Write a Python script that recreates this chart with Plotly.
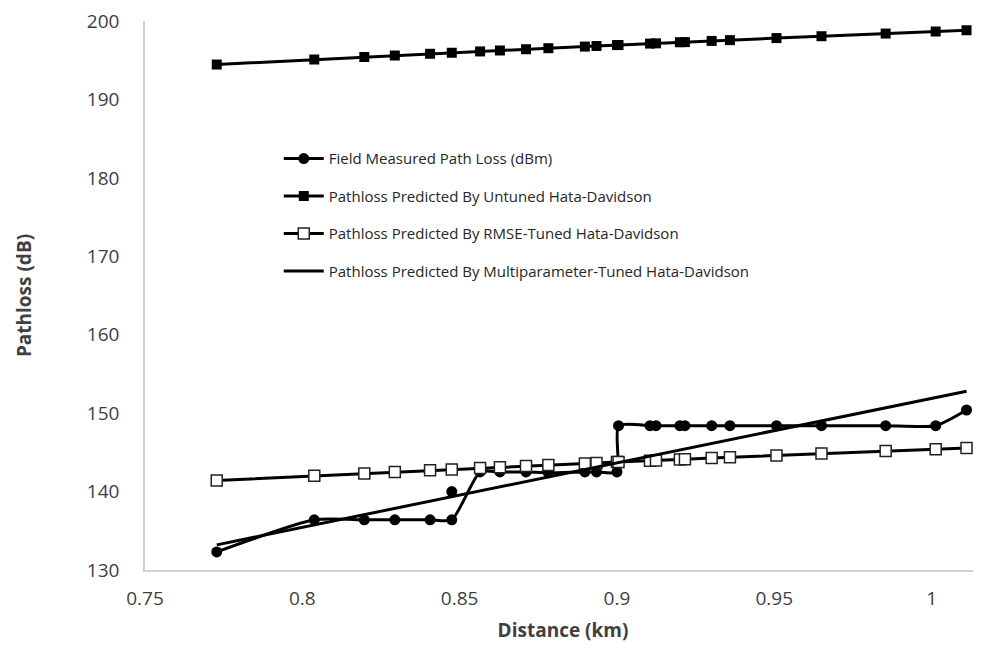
import plotly.graph_objects as go

# Distances (km) shared by the series with markers
distance_km = [0.7728, 0.8038, 0.8197, 0.8294, 0.8406, 0.8475, 0.8565, 0.8628,
               0.8711, 0.8782, 0.8898, 0.8935, 0.9000, 0.9005, 0.9105, 0.9124,
               0.9200, 0.9216, 0.9301, 0.9359, 0.9507, 0.9650, 0.9854, 1.0013,
               1.0111]

measured_db = [132.3, 136.4, 136.4, 136.4, 136.4, 136.4, 142.5, 142.5,
               142.5, 142.4, 142.5, 142.5, 142.5, 148.4, 148.4, 148.4,
               148.4, 148.4, 148.4, 148.4, 148.4, 148.4, 148.4, 148.4,
               150.4]

# isolated measured marker lying on the multiparameter line
measured_extra_km = [0.8475]
measured_extra_db = [140.0]

untuned_db = [194.45, 195.09, 195.41, 195.60, 195.82, 195.95, 196.12, 196.24,
              196.40, 196.53, 196.74, 196.81, 196.93, 196.94, 197.12, 197.15,
              197.29, 197.31, 197.46, 197.56, 197.82, 198.06, 198.40, 198.66,
              198.82]

rmse_db = [141.41, 142.01, 142.32, 142.50, 142.71, 142.83, 142.99, 143.11,
           143.26, 143.38, 143.58, 143.65, 143.76, 143.77, 143.94, 143.97,
           144.10, 144.13, 144.27, 144.37, 144.61, 144.84, 145.16, 145.41,
           145.56]

multi_km = [0.7728, 1.0111]
multi_db = [133.2, 152.8]

x_tick_vals = [0.75, 0.8, 0.85, 0.9, 0.95, 1.0]
x_tick_text = ["0.75", "0.8", "0.85", "0.9", "0.95", "1"]
y_tick_vals = [130, 140, 150, 160, 170, 180, 190, 200]

names = ["Field Measured Path Loss (dBm)",
         "Pathloss Predicted By Untuned Hata-Davidson",
         "Pathloss Predicted By RMSE-Tuned Hata-Davidson",
         "Pathloss Predicted By Multiparameter-Tuned Hata-Davidson"]

FONT = "Open Sans"
LINE_W = 3

fig = go.Figure()
fig.add_trace(go.Scatter(
    x=distance_km, y=measured_db, name=names[0], mode="lines+markers",
    line=dict(color="black", width=LINE_W, shape="spline", smoothing=0.6),
    marker=dict(symbol="circle", size=11, color="black"), legendgroup="a"))
fig.add_trace(go.Scatter(
    x=distance_km, y=untuned_db, name=names[1], mode="lines+markers",
    line=dict(color="black", width=LINE_W),
    marker=dict(symbol="square", size=10, color="black"), legendgroup="b"))
fig.add_trace(go.Scatter(
    x=distance_km, y=rmse_db, name=names[2], mode="lines+markers",
    line=dict(color="black", width=LINE_W),
    marker=dict(symbol="square", size=11, color="white",
                line=dict(color="#222222", width=1.5)), legendgroup="c"))
fig.add_trace(go.Scatter(
    x=multi_km, y=multi_db, name=names[3], mode="lines",
    line=dict(color="black", width=LINE_W), legendgroup="d"))
fig.add_trace(go.Scatter(
    x=measured_extra_km, y=measured_extra_db, mode="markers", showlegend=False,
    marker=dict(symbol="circle", size=11, color="black")))

fig.update_layout(
    width=981, height=652,
    margin=dict(l=137, r=8, t=13, b=90),
    paper_bgcolor="white", plot_bgcolor="white",
    font=dict(family=FONT, color="#404040"),
    legend=dict(x=0.16, y=0.779, xanchor="left", yanchor="top",
                font=dict(family=FONT, size=15, color="#262626"),
                bgcolor="rgba(0,0,0,0)", tracegroupgap=15, itemwidth=40),
    xaxis=dict(range=[0.75, 1.0157], tickvals=x_tick_vals, ticktext=x_tick_text,
               showgrid=False, zeroline=False, showline=True, automargin=False,
               linecolor="#d0d0d0", linewidth=1.5, ticks="",
               ticklabelstandoff=10, ticklabeloverflow="allow",
               tickfont=dict(family=FONT, size=19, color="#404040"),
               title=dict(text="<b>Distance (km)</b>", standoff=14,
                          font=dict(family=FONT, size=19, color="#404040"))),
    yaxis=dict(range=[130, 200], tickvals=y_tick_vals,
               showgrid=False, zeroline=False, showline=True, automargin=False,
               linecolor="#d0d0d0", linewidth=1.5, ticks="",
               ticklabelstandoff=20, ticklabeloverflow="allow",
               tickfont=dict(family=FONT, size=19, color="#404040"),
               title=dict(text="<b>Pathloss (dB)</b>", standoff=50,
                          font=dict(family=FONT, size=19, color="#404040"))),
)

fig.write_html("out.html")
